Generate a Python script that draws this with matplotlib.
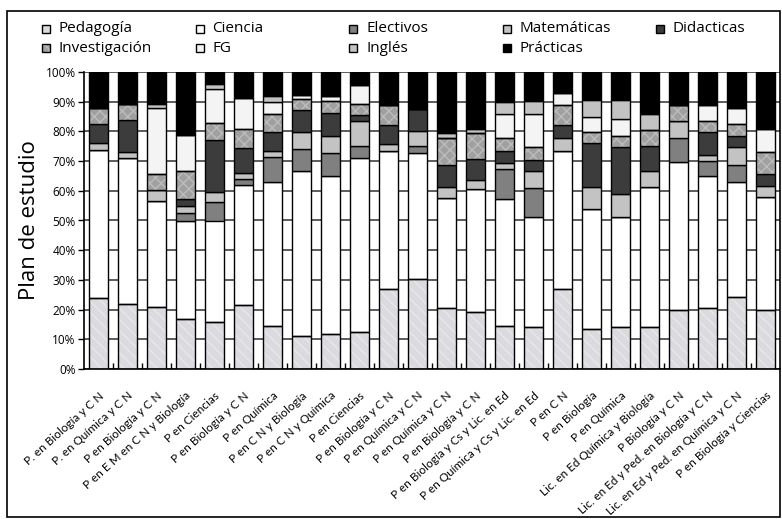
import matplotlib
matplotlib.use('Agg')
import matplotlib.pyplot as plt
from matplotlib.patches import Rectangle
import numpy as np

plt.rcParams['font.family'] = ['Open Sans', 'DejaVu Sans']

# carreras (eje x)
carreras = ['P. en Biología y C N', 'P. en Química y C N', 'P en Biología y C N',
            'P en E M en C N y Biología', 'P en Ciencias', 'P en Biología y C N',
            'P en Química', 'P en C N y Biología', 'P en C N y Química', 'P en Ciencias',
            'P en Biología y C N', 'P en Química y C N', 'P en Química y C N',
            'P en Biología y C N', 'P en Biología y Cs y Lic. en Ed',
            'P en Química y Cs y Lic. en Ed', 'P en C N', 'P en Biología', 'P en Química',
            'Lic. en Ed Química y Biología', 'P Biología y C N',
            'Lic. en Ed y Ped. en Biología y C N', 'Lic. en Ed y Ped. en Química y C N',
            'P en Biología y Ciencias']

# porcentajes por area
pedagogia = [23.9, 21.8, 21.0, 16.9, 15.7, 21.6, 14.6, 11.1, 11.8, 12.5, 27.0, 30.3,
             20.4, 19.1, 14.6, 14.0, 27.0, 13.3, 14.0, 14.0, 20.0, 20.4, 24.2, 19.7]
ciencia = [49.9, 49.2, 35.7, 33.1, 34.3, 40.5, 48.5, 55.5, 53.1, 58.5, 46.4, 42.4,
           37.1, 41.6, 42.5, 37.2, 46.4, 40.6, 37.1, 47.2, 49.7, 44.5, 38.7, 38.2]
electivos = [0, 0, 0, 2.5, 6.2, 1.9, 8.2, 7.6, 7.9, 4.1, 0, 2.4,
             0, 0, 10.3, 9.7, 0, 0, 0, 0, 8.1, 5.3, 5.9, 0]
matematicas = [2.4, 2.0, 3.7, 2.3, 3.4, 2.0, 2.1, 5.6, 5.6, 8.3, 2.2, 4.9,
               3.7, 3.1, 1.9, 5.7, 4.4, 7.4, 7.9, 5.4, 5.6, 2.0, 5.9, 3.7]
didacticas = [6.4, 10.7, 0, 2.4, 17.6, 8.4, 6.4, 7.5, 7.9, 2.0, 6.4, 7.4,
              7.6, 6.8, 4.0, 3.9, 4.2, 14.8, 15.7, 8.5, 0, 7.6, 3.7, 4.1]
investigacion = [5.4, 5.4, 5.1, 9.4, 5.6, 6.5, 6.0, 3.7, 4.1, 3.9, 6.8, 0,
                 9.0, 9.0, 4.5, 4.2, 7.0, 3.7, 3.7, 5.5, 5.6, 3.6, 4.0, 7.3]
fg = [0, 0, 22.4, 12.1, 11.6, 10.4, 4.1, 1.4, 1.5, 6.4, 0, 0,
      0, 0, 8.0, 11.1, 4.0, 5.2, 5.9, 0, 0, 5.4, 5.6, 7.7]
ingles = [0, 0, 1.3, 0, 1.7, 0, 2.0, 0, 0, 0, 0, 0,
          1.8, 1.3, 4.1, 4.3, 0, 5.7, 6.4, 5.4, 0, 0, 0, 0]
practicas = [12.0, 10.9, 10.8, 21.3, 3.9, 8.7, 8.1, 7.6, 8.1, 4.3, 11.2, 12.6,
             20.4, 19.1, 10.1, 9.9, 7.0, 9.3, 9.3, 14.0, 11.0, 11.2, 12.0, 19.3]

series = [('Pedagogía', pedagogia, '#dadadf', '#e8e8eb', '\\\\\\'),
          ('Ciencia', ciencia, 'white', None, None),
          ('Electivos', electivos, '#808080', None, None),
          ('Matemáticas', matematicas, '#c3c3c3', None, None),
          ('Didacticas', didacticas, '#3c3c3c', None, None),
          ('Investigación', investigacion, '#a0a0a0', '#bcbcbc', 'xxx'),
          ('FG', fg, '#f4f4f4', None, None),
          ('Inglés', ingles, '#c3c3c3', None, None),
          ('Prácticas', practicas, 'black', None, None)]

W, H = 782, 519
fig = plt.figure(figsize=(W/100, H/100), dpi=100)
ax = fig.add_axes([84/W, 150/H, 696/W, 297/H])

x = np.arange(len(carreras))
bottom = np.zeros(len(carreras))
for nombre, vals, color, hcol, hatch in series:
    vals = np.array(vals)
    if hatch:
        ax.bar(x, vals, 0.66, bottom=bottom, color=color, edgecolor=hcol,
               hatch=hatch, linewidth=0, zorder=2)
        ax.bar(x, vals, 0.66, bottom=bottom, facecolor='none', edgecolor='black',
               linewidth=1, zorder=3)
    else:
        ax.bar(x, vals, 0.66, bottom=bottom, color=color, edgecolor='black',
               linewidth=1, zorder=2)
    bottom += vals

ax.set_xlim(-0.5, len(carreras) - 0.5)
ax.set_ylim(0, 100)
ax.set_yticks(range(0, 101, 10))
ax.set_yticklabels([f'{v}%' for v in range(0, 101, 10)], fontsize=8.5)
ax.yaxis.grid(True, color='#303030', linewidth=1.1, zorder=0)
ax.set_axisbelow(True)
ax.tick_params(axis='y', length=4, width=1, pad=2)

ax.set_xticks(x)
ax.set_xticklabels(carreras, rotation=42, ha='right', rotation_mode='anchor',
                   fontsize=8.5, family=['Lato', 'DejaVu Sans'])
ax.tick_params(axis='x', length=0, pad=15)
ax.set_xticks(np.arange(0.5, len(carreras) - 0.5, 1), minor=True)
ax.tick_params(axis='x', which='minor', direction='in', length=4, width=1)

for s in ['top', 'right']:
    ax.spines[s].set_visible(False)
ax.spines['left'].set_linewidth(1.2)
ax.spines['bottom'].set_linewidth(1.2)

ax.set_ylabel('Plan de estudio', fontsize=16, labelpad=4)

# leyenda a mano: 5 columnas, 2 filas
pos = [(0, 0), (0, 1), (0, 2), (0, 3), (0, 4), (1, 0), (1, 1), (1, 2), (1, 3)]
for (fila, col), (nombre, vals, color, hcol, hatch) in zip(pos, series):
    mx = 42 + 153.5 * col
    my = 29 + 19 * fila
    if hatch:
        fig.add_artist(Rectangle((mx/W, 1 - (my + 4)/H), 8/W, 8/H, transform=fig.transFigure,
                                 facecolor=color, edgecolor=hcol, hatch=hatch, linewidth=0))
    fig.add_artist(Rectangle((mx/W, 1 - (my + 4)/H), 8/W, 8/H, transform=fig.transFigure,
                             facecolor=color if not hatch else 'none',
                             edgecolor='black', linewidth=1))
    fig.text((mx + 17)/W, 1 - my/H, nombre, fontsize=11, va='center', ha='left')

fig.add_artist(Rectangle((7/W, 2/H), 773/W, 506/H, transform=fig.transFigure,
                         fill=False, edgecolor='black', linewidth=1.2))

plt.savefig('out.png', dpi=100)
